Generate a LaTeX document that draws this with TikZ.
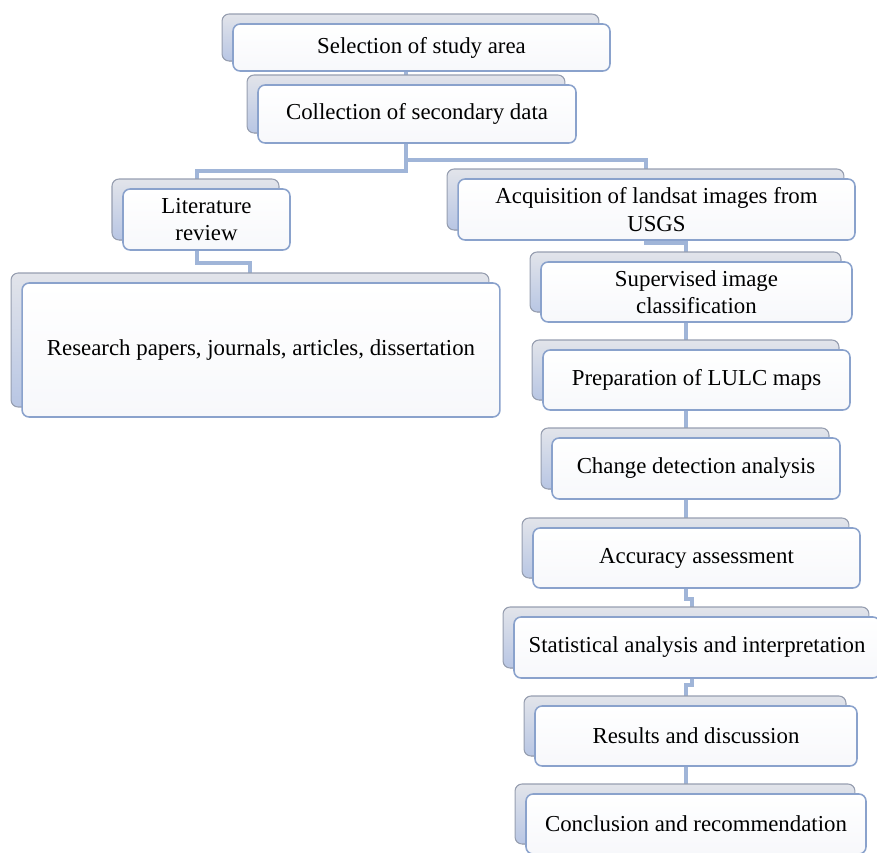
\documentclass[tikz,border=0pt]{standalone}
\usepackage{fontspec}
\setmainfont{Liberation Serif}
\usepackage{tikz}
\usetikzlibrary{shadows,backgrounds,calc}

\definecolor{boxline}{RGB}{138,162,204}
\definecolor{boxfill}{RGB}{247,248,251}
\definecolor{backtop}{RGB}{226,228,234}
\definecolor{backbot}{RGB}{184,198,228}
\definecolor{backline}{RGB}{150,158,176}
\definecolor{connline}{RGB}{160,181,216}

\tikzset{
  stepbox/.style={draw=boxline, line width=0.9pt, rounded corners=4pt,
    top color=white, bottom color=boxfill, align=center, inner sep=2pt,
    font=\fontsize{13}{15.5}\selectfont,
    copy shadow={shadow xshift=-0.22cm, shadow yshift=0.2cm,
      draw=backline, line width=0.6pt, top color=backtop, bottom color=backbot}},
  conn/.style={draw=connline, line width=2.2pt}
}

\begin{document}
\begin{tikzpicture}[x=0.02cm, y=-0.02cm]
    \useasboundingbox (0,0) rectangle (877,853);

    % top of the chain
    \node[stepbox, minimum width=7.54cm, minimum height=0.94cm] (sel) at (421.5,47.5) {Selection of study area};
    \node[stepbox, minimum width=6.36cm, minimum height=1.16cm] (col) at (417,114) {Collection of secondary data};

    % left branch
    \node[stepbox, minimum width=3.34cm, minimum height=1.22cm] (lit) at (206.5,219.5) {Literature\\review};
    \node[stepbox, minimum width=9.56cm, minimum height=2.68cm] (res) at (261,350) {Research papers, journals, articles, dissertation};

    % right branch
    \node[stepbox, minimum width=7.94cm, minimum height=1.22cm] (acq) at (656.5,209.5) {Acquisition of landsat images from\\USGS};
    \node[stepbox, minimum width=6.22cm, minimum height=1.2cm] (sup) at (696.5,292) {Supervised image\\classification};
    \node[stepbox, minimum width=6.14cm, minimum height=1.2cm] (prep) at (696.5,380) {Preparation of LULC maps};
    \node[stepbox, minimum width=5.76cm, minimum height=1.22cm] (chg) at (696,468.5) {Change detection analysis};
    \node[stepbox, minimum width=6.54cm, minimum height=1.2cm] (acc) at (696.5,558) {Accuracy assessment};
    \node[stepbox, minimum width=7.32cm, minimum height=1.22cm] (stat) at (697,647.5) {Statistical analysis and interpretation};
    \node[stepbox, minimum width=6.44cm, minimum height=1.2cm] (rsd) at (696,736) {Results and discussion};
    \node[stepbox, minimum width=6.8cm, minimum height=1.2cm] (con) at (696,824) {Conclusion and recommendation};

    % connectors behind the boxes
    \coordinate (trunk) at (406,0);
    \coordinate (litx) at (197,0);
    \coordinate (resx) at (250,0);
    \coordinate (acqx) at (646,0);
    \coordinate (spine) at (686,0);
    \coordinate (spineb) at (692,0);

    \begin{scope}[on background layer]
    \draw[conn] (sel.south -| trunk) -- (col.north -| trunk);
    \draw[conn] (col.south -| trunk) -- ++(0,27) -| (lit.north -| litx);
    \draw[conn] (col.south -| trunk) -- ++(0,16) -| (acq.north -| acqx);
    \draw[conn] (lit.south -| litx) -- ++(0,12) -| (res.north -| resx);
    \draw[conn] (acq.south -| acqx) -- ++(0,2) -| (sup.north -| spine);
    \draw[conn] (sup.south -| spine) -- (prep.north -| spine);
    \draw[conn] (prep.south -| spine) -- (chg.north -| spine);
    \draw[conn] (chg.south -| spine) -- (acc.north -| spine);
    \draw[conn] (acc.south -| spine) -- ++(0,10) -| (stat.north -| spineb);
    \draw[conn] (stat.south -| spineb) -- ++(0,6) -| (rsd.north -| spine);
    \draw[conn] (rsd.south -| spine) -- (con.north -| spine);
    \end{scope}
\end{tikzpicture}
\end{document}
